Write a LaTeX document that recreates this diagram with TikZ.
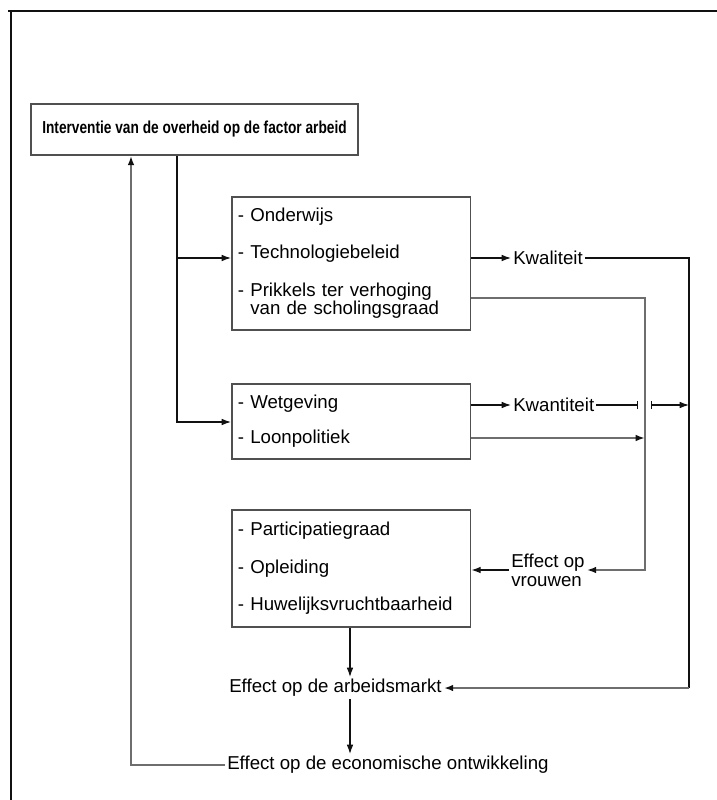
\documentclass[tikz,border=0pt]{standalone}
\usepackage{fontspec}
\setmainfont{Liberation Sans}
\usepackage{graphicx}
\usepackage{xcolor}
\usepackage{tikz}
\usetikzlibrary{arrows.meta}
\definecolor{ink}{HTML}{111111}
\definecolor{greyline}{HTML}{6E6E6E}
\definecolor{boxline}{HTML}{505050}
\tikzset{
  frame/.style={draw=ink, line width=1.6pt},
  head/.style={draw=boxline, line width=1.4pt, font=\bfseries\fontsize{13}{15}\selectfont, minimum width=245pt, minimum height=38pt, inner sep=0pt},
  box/.style={draw=boxline, line width=1.3pt, font=\fontsize{14}{14}\selectfont, align=left, text width=170pt, inner xsep=4.5pt, inner ysep=0pt, anchor=north west},
  lab/.style={font=\fontsize{14}{14}\selectfont, inner sep=1.5pt, anchor=west, align=left},
  dk/.style={draw=ink, line width=0.9pt},
  gr/.style={draw=greyline, line width=1.6pt},
  tip/.style={-{Latex[length=7pt,width=5pt,color=ink]}},
  tick/.style={-{Bar[width=6pt,line width=0.9pt]}},
}

\begin{document}
\begin{tikzpicture}[x=0.75pt,y=-0.75pt]
  \useasboundingbox (0,0) rectangle (717,800);
  \draw[frame] (8,11) -- (717,11);
  \draw[frame] (11,11) -- (11,800);

  % levels and columns
  \coordinate (xb) at (131,0);
  \coordinate (xf) at (177,0);
  \coordinate (xm) at (350,0);
  \coordinate (xg) at (645,0);
  \coordinate (xr) at (689,0);
  \coordinate (yq) at (0,258);
  \coordinate (yp) at (0,298);
  \coordinate (yk) at (0,405);
  \coordinate (yw) at (0,422);
  \coordinate (yl) at (0,438);

  \node[head] (top) at (194.5,129.5) {\scalebox{0.79}[1]{Interventie van de overheid op de factor arbeid}};

  \node[box, minimum height=99.75pt] (box1) at (231,196)
    {- Onderwijs\\[14pt]- Technologiebeleid\\[14pt]- Prikkels ter verhoging\\\phantom{- }van de scholingsgraad};
  \node[box, minimum height=56.25pt] (box2) at (231,383)
    {- Wetgeving\\[12.5pt]- Loonpolitiek};
  \node[box, minimum height=87.75pt] (box3) at (231,509)
    {- Participatiegraad\\[14pt]- Opleiding\\[14pt]- Huwelijksvruchtbaarheid};

  \node[lab] (kwal) at (511,258) {Kwaliteit};
  \node[lab] (kwan) at (511,405) {Kwantiteit};
  \node[lab] (vrouw) at (509,570) {Effect op\\vrouwen};
  \node[lab] (arb) at (227,688) {Effect op de arbeidsmarkt};
  \node[lab] (eco) at (225,765) {Effect op de economische ontwikkeling};

  % from the top box into the two policy boxes
  \draw[dk,tip] (top.south -| xf) |- (box2.west |- yw);
  \draw[dk,tip] (xf |- yq) -- (box1.west |- yq);

  % quality
  \draw[dk,tip] (box1.east |- yq) -- (kwal.west);
  \draw[dk] (kwal.east) -| (xr |- arb);
  \draw[gr,tip] (xr |- arb) -- (arb.east);

  % women
  \draw[gr,tip] (box1.east |- yp) -| (xg |- vrouw) -- (vrouw.east);
  \draw[dk,tip] (vrouw.west) -- (box3.east |- vrouw);

  % quantity, hopping over the grey line
  \draw[dk,tip] (box2.east |- yk) -- (kwan.west);
  \draw[dk,tick] (kwan.east) -- ([xshift=-5pt]xg |- yk);
  \draw[dk,tip] ([xshift=5pt]xg |- yk) -- (xr |- yk);
  \draw[dk] ([xshift=5pt]xg |- yk) ++(0,-4) -- ++(0,8);
  \draw[gr,tip] (box2.east |- yl) -- (xg |- yl);

  % down to the effects and back up
  \draw[dk,tip] (box3.south -| xm) -- (arb.north -| xm);
  \draw[dk,tip] (arb.south -| xm) -- (eco.north -| xm);
  \draw[gr,tip] (eco.west) -| (top.south -| xb);
\end{tikzpicture}
\end{document}
